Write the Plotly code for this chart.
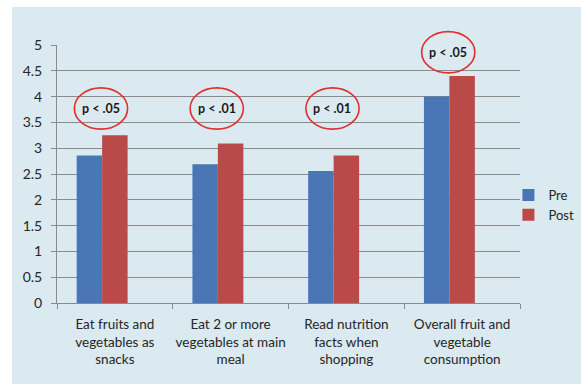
import plotly.graph_objects as go

# Survey items (x-axis categories)
categories = [
    "Eat fruits and<br>vegetables as<br>snacks",
    "Eat 2 or more<br>vegetables at main<br>meal",
    "Read nutrition<br>facts when<br>shopping",
    "Overall fruit and<br>vegetable<br>consumption",
]
pre_values = [2.86, 2.69, 2.56, 4.00]
post_values = [3.25, 3.09, 2.86, 4.40]
p_labels = ["p < .05", "p < .01", "p < .01", "p < .05"]
y_ticks = [0, 0.5, 1, 1.5, 2, 2.5, 3, 3.5, 4, 4.5, 5]

Y_MAX = 5
PANEL = "#DBE9F0"
BLUE = "#4A76B6"
RED = "#BA4A48"
GRID = "#8A8A8A"
TEXT = "#262626"
FONT = "Lato, Open Sans, sans-serif"

fig = go.Figure()
fig.add_trace(go.Bar(x=categories, y=pre_values, name="Pre",
                     marker=dict(color=BLUE, line=dict(width=0))))
fig.add_trace(go.Bar(x=categories, y=post_values, name="Post",
                     marker=dict(color=RED, line=dict(width=0))))
# empty third slot keeps each pair shifted left within its category
fig.add_trace(go.Bar(x=categories, y=[None] * len(categories), name="",
                     showlegend=False, hoverinfo="skip"))

n_cat = len(categories)


def px(xv):
    """category-axis value -> paper fraction (axis spans -0.5 .. n-0.5)"""
    return (xv + 0.5) / n_cat


def py(yv):
    """value-axis value -> paper fraction (axis spans 0 .. Y_MAX)"""
    return yv / Y_MAX


# significance call-outs: red ellipses with bold p-value text
# (paper-referenced so the top one can rise above the plot area)
ellipse_y = [3.77, 3.77, 3.77, 4.86]
shapes = [
    dict(type="rect", xref="paper", yref="paper",
         x0=-45 / 463, x1=1 + 61 / 463, y0=-81 / 258, y1=1 + 38 / 258,
         fillcolor=PANEL, line=dict(width=0), layer="below"),
]
annotations = []
for i, (lab, yc) in enumerate(zip(p_labels, ellipse_y)):
    xc = i - 0.12
    shapes.append(dict(type="circle", xref="paper", yref="paper",
                       x0=px(xc - 0.23), x1=px(xc + 0.23),
                       y0=py(yc - 0.40), y1=py(yc + 0.40),
                       line=dict(color="#E0302E", width=1.6)))
    annotations.append(dict(x=px(xc), y=py(yc), xref="paper", yref="paper",
                            xanchor="center", yanchor="middle",
                            text=f"<b>{lab}</b>", showarrow=False,
                            font=dict(family=FONT, size=12.5, color="#1A1A1A")))

fig.update_layout(
    width=581, height=384,
    margin=dict(l=57, r=61, t=45, b=81, autoexpand=False),
    paper_bgcolor="white",
    plot_bgcolor=PANEL,
    barmode="group",
    bargap=0.34,
    bargroupgap=0,
    font=dict(family=FONT, size=12, color=TEXT),
    shapes=shapes,
    annotations=annotations,
    showlegend=True,
    legend=dict(x=0.975, xanchor="left", y=0.38, yanchor="middle",
                bgcolor="rgba(0,0,0,0)", itemwidth=30,
                font=dict(family=FONT, size=13, color=TEXT),
                tracegroupgap=6),
    xaxis=dict(range=[-0.5, n_cat - 0.5],
               showgrid=False, showline=True, linecolor=GRID, linewidth=1,
               ticks="outside", tickson="boundaries", ticklen=5, tickcolor=GRID,
               ticklabelstandoff=9, tickangle=0,
               tickfont=dict(family=FONT, size=13.5, color=TEXT)),
    yaxis=dict(range=[0, Y_MAX], tickvals=y_ticks,
               ticktext=[f"{v:g}" for v in y_ticks],
               showgrid=True, gridcolor=GRID, gridwidth=1,
               showline=True, linecolor=GRID, linewidth=1,
               ticks="outside", ticklen=5, tickcolor=GRID,
               ticklabelstandoff=6,
               zeroline=False,
               tickfont=dict(family=FONT, size=14, color=TEXT)),
)

fig.write_html("out.html")
